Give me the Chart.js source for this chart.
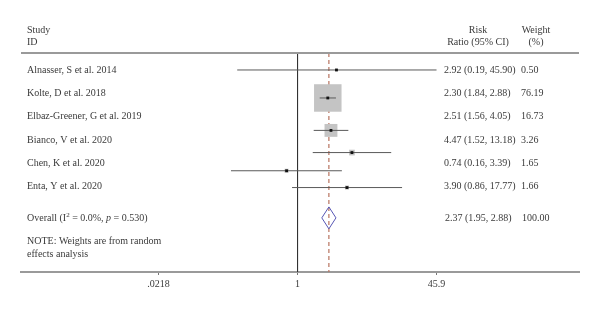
<!DOCTYPE html>
<html>
<head>
<meta charset="utf-8">
<script src="https://cdn.jsdelivr.net/npm/chart.js@4"></script>
<style>
  html, body { margin: 0; padding: 0; background: #fff; }
  #wrap { width: 600px; height: 313px; }
</style>
</head>
<body>
<div id="wrap"><canvas id="forest"></canvas></div>
<script>
// study data
var studies = ['Alnasser, S et al. 2014', 'Kolte, D et al. 2018', 'Elbaz-Greener, G et al. 2019',
    'Bianco, V et al. 2020', 'Chen, K et al. 2020', 'Enta, Y et al. 2020'];
var riskRatio = [2.92, 2.30, 2.51, 4.47, 0.74, 3.90];
var ciLow = [0.19, 1.84, 1.56, 1.52, 0.16, 0.86];
var ciHigh = [45.90, 2.88, 4.05, 13.18, 3.39, 17.77];
var weights = [0.50, 76.19, 16.73, 3.26, 1.65, 1.66];
var ciText = ['2.92 (0.19, 45.90)', '2.30 (1.84, 2.88)', '2.51 (1.56, 4.05)',
    '4.47 (1.52, 13.18)', '0.74 (0.16, 3.39)', '3.90 (0.86, 17.77)'];
var weightText = ['0.50', '76.19', '16.73', '3.26', '1.65', '1.66'];
// rows: study labels sit on whole rows, the marks are drawn a little lower in the source figure
var labelRow = [0, 1, 2, 3, 4, 5];
var markRow = [0, 1.2, 2.59, 3.54, 4.32, 5.04];
var overallRR = 2.37, overallLow = 1.95, overallHigh = 2.88;
var overallRow = 6.34;
var overallCiText = '2.37 (1.95, 2.88)', overallWeightText = '100.00';
var xTicks = [0.0218, 1, 45.9];
var xTickLabels = ['.0218', '1', '45.9'];

(function () {
    'use strict';

    var FONT = '"Liberation Serif", "Times New Roman", serif';
    var TEXT = '#3a3a3a';
    var headerRow = -0.73, yMin = -3, yMax = 8.66;
    var maxBox = 27.5, diamondHalf = 0.47;

    var boxData = [], dotData = [], datasets = [];
    for (var i = 0; i < studies.length; i++) {
        var side = maxBox * Math.sqrt(weights[i] / 76.19);
        boxData.push({ x: riskRatio[i], y: markRow[i], r: side / (2 * Math.SQRT1_2) });
        dotData.push({ x: riskRatio[i], y: markRow[i] });
        datasets.push({
            type: 'line', data: [{ x: ciLow[i], y: markRow[i] }, { x: ciHigh[i], y: markRow[i] }],
            borderColor: '#5a5a5a', borderWidth: 1, pointRadius: 0, order: 2
        });
    }
    datasets.push({
        type: 'scatter', data: boxData, pointStyle: 'rect', backgroundColor: '#c4c4c4', borderWidth: 0,
        pointRadius: function (c) { return c.raw ? c.raw.r : 0; }, order: 3
    });
    datasets.push({
        type: 'scatter', data: dotData, pointStyle: 'rect', backgroundColor: '#111', borderWidth: 0,
        pointRadius: 2, order: 1
    });
    // null line at 1 and dashed line at the pooled estimate
    datasets.push({
        type: 'line', data: [{ x: 1, y: headerRow }, { x: 1, y: yMax }],
        borderColor: '#333', borderWidth: 1, pointRadius: 0, order: 5
    });
    datasets.push({
        type: 'line', data: [{ x: overallRR, y: headerRow }, { x: overallRR, y: yMax }],
        borderColor: '#b8735f', borderWidth: 1.2, borderDash: [4, 3], pointRadius: 0, order: 4
    });
    datasets.push({
        type: 'line', order: 0, borderColor: '#5656b4', borderWidth: 1, pointRadius: 0, fill: false,
        data: [{ x: overallLow, y: overallRow }, { x: overallRR, y: overallRow - diamondHalf },
            { x: overallHigh, y: overallRow }, { x: overallRR, y: overallRow + diamondHalf },
            { x: overallLow, y: overallRow }]
    });

    var textPlugin = {
        id: 'forestText',
        afterDraw: function (chart) {
            var ctx = chart.ctx, ys = chart.scales.y, area = chart.chartArea;
            var py = function (r) { return ys.getPixelForValue(r); };
            ctx.save();
            ctx.fillStyle = TEXT;
            ctx.textBaseline = 'middle';
            ctx.font = '10px ' + FONT;

            ctx.textAlign = 'left';
            ctx.fillText('Study', 27, py(-1.71));
            ctx.fillText('ID', 27, py(-1.17));
            ctx.textAlign = 'center';
            ctx.fillText('Risk', 478, py(-1.71));
            ctx.fillText('Ratio (95% CI)', 478, py(-1.17));
            ctx.fillText('Weight', 536, py(-1.71));
            ctx.fillText('(%)', 536, py(-1.17));

            ctx.textAlign = 'left';
            studies.forEach(function (s, k) {
                var y = py(labelRow[k]);
                ctx.fillText(s, 27, y);
                ctx.fillText(ciText[k], 444, y);
                ctx.fillText(weightText[k], 521, y);
            });

            // overall row with superscript and italic p
            var y0 = py(6.38), x = 27;
            var parts = [['Overall (I', '10px ', 0], ['2', '7px ', -4], [' = 0.0%, ', '10px ', 0],
                ['p', 'italic 10px ', 0], [' = 0.530)', '10px ', 0]];
            parts.forEach(function (p) {
                ctx.font = p[1] + FONT;
                ctx.fillText(p[0], x, y0 + p[2]);
                x += ctx.measureText(p[0]).width;
            });
            ctx.font = '10px ' + FONT;
            ctx.fillText(overallCiText, 445, y0);
            ctx.fillText(overallWeightText, 522, y0);

            ctx.fillText('NOTE: Weights are from random', 27, py(7.36));
            ctx.fillText('effects analysis', 27, py(7.89));

            // header rule
            ctx.strokeStyle = '#9a9a9a';
            ctx.lineWidth = 2;
            ctx.beginPath();
            ctx.moveTo(area.left, py(headerRow));
            ctx.lineTo(area.right, py(headerRow));
            ctx.stroke();
            ctx.restore();
        }
    };

    new Chart(document.getElementById('forest'), {
        type: 'scatter',
        data: { datasets: datasets },
        options: {
            responsive: true, maintainAspectRatio: false, animation: false,
            layout: { autoPadding: false, padding: { left: 21, right: 21, top: 0, bottom: 20 } },
            plugins: { legend: { display: false }, tooltip: { enabled: false } },
            scales: {
                x: {
                    type: 'logarithmic', min: 0.000494, max: 2318,
                    afterBuildTicks: function (s) { s.ticks = xTicks.map(function (v) { return { value: v }; }); },
                    ticks: {
                        autoSkip: false, maxRotation: 0, color: TEXT, padding: 3,
                        font: { family: FONT, size: 10 },
                        callback: function (v, i) { return xTickLabels[i]; }
                    },
                    grid: { display: true, drawOnChartArea: false, drawTicks: true, tickLength: 3, color: '#777' },
                    border: { display: true, color: '#9a9a9a', width: 2 }
                },
                y: { type: 'linear', reverse: true, min: yMin, max: yMax, display: false }
            }
        },
        plugins: [textPlugin]
    });
})();
</script>
</body>
</html>
